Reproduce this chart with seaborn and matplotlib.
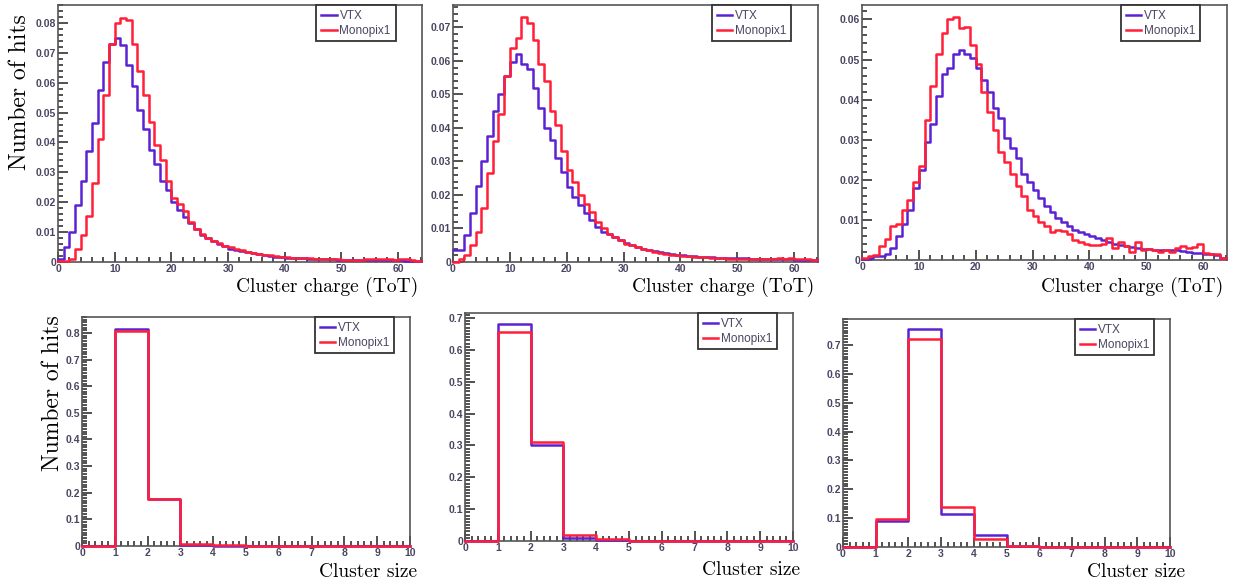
import numpy as np
import pandas as pd
import matplotlib
matplotlib.use('Agg')
import matplotlib.pyplot as plt
import seaborn as sns
from matplotlib.ticker import MultipleLocator, FuncFormatter

# ---- data (normalised hits per bin) ----
charge_edges = np.arange(0, 65, 1)
size_edges = np.arange(0, 11, 1)

charge_vtx_1 = [0.001, 0.005, 0.010, 0.019, 0.027, 0.037, 0.0465, 0.0575, 0.067, 0.073,
                0.0748, 0.0725, 0.066, 0.059, 0.051, 0.0445, 0.0375, 0.0327, 0.027, 0.024,
                0.020, 0.0175, 0.015, 0.013, 0.011, 0.009, 0.008, 0.007, 0.006, 0.0055,
                0.0045, 0.004, 0.0037, 0.0033, 0.003, 0.0027, 0.0023, 0.002, 0.0018, 0.0016,
                0.0015, 0.0014, 0.0013, 0.0012, 0.0011, 0.001, 0.001, 0.0009, 0.0009, 0.0008,
                0.0008, 0.0008, 0.0008, 0.0007, 0.0007, 0.0007, 0.0007, 0.0006, 0.0006, 0.0006,
                0.0006, 0.0005, 0.0005, 0.0004]
charge_mono_1 = [0.0002, 0.0005, 0.001, 0.0045, 0.009, 0.0155, 0.0265, 0.041, 0.056, 0.073,
                 0.080, 0.0815, 0.081, 0.073, 0.064, 0.056, 0.047, 0.039, 0.034, 0.027,
                 0.0215, 0.0195, 0.017, 0.0135, 0.011, 0.0095, 0.008, 0.007, 0.0065, 0.0055,
                 0.005, 0.0045, 0.004, 0.0035, 0.003, 0.0028, 0.0025, 0.0022, 0.002, 0.0018,
                 0.0016, 0.0015, 0.0013, 0.0012, 0.0012, 0.0011, 0.001, 0.001, 0.0009, 0.0009,
                 0.0008, 0.0008, 0.0008, 0.0008, 0.0009, 0.0011, 0.0009, 0.0011, 0.0009, 0.0008,
                 0.0011, 0.0009, 0.0007, 0.0005]

charge_vtx_2 = [0.0035, 0.0035, 0.008, 0.0147, 0.0226, 0.030, 0.0377, 0.045, 0.050, 0.0555,
                0.0597, 0.062, 0.059, 0.0575, 0.052, 0.046, 0.040, 0.0365, 0.031, 0.027,
                0.0225, 0.0195, 0.017, 0.0145, 0.0125, 0.0105, 0.009, 0.0083, 0.0075, 0.0065,
                0.0058, 0.005, 0.0045, 0.004, 0.0037, 0.0033, 0.003, 0.0027, 0.0025, 0.0022,
                0.002, 0.0019, 0.0018, 0.0016, 0.0015, 0.0014, 0.0013, 0.0013, 0.0012, 0.0012,
                0.0011, 0.0011, 0.001, 0.001, 0.001, 0.0009, 0.0009, 0.0009, 0.0008, 0.0008,
                0.0007, 0.0007, 0.0006, 0.0005]
charge_mono_2 = [0.0, 0.001, 0.002, 0.005, 0.009, 0.016, 0.0267, 0.036, 0.0443, 0.0555,
                 0.064, 0.067, 0.073, 0.0714, 0.0664, 0.059, 0.054, 0.045, 0.041, 0.033,
                 0.0276, 0.024, 0.020, 0.0174, 0.015, 0.012, 0.010, 0.0085, 0.0075, 0.0065,
                 0.0055, 0.005, 0.0045, 0.004, 0.0035, 0.003, 0.0028, 0.0025, 0.0022, 0.002,
                 0.0019, 0.0017, 0.0016, 0.0015, 0.0014, 0.0013, 0.0012, 0.0011, 0.001, 0.001,
                 0.0009, 0.0009, 0.0008, 0.0009, 0.0008, 0.0009, 0.001, 0.0012, 0.001, 0.0012,
                 0.0009, 0.001, 0.0008, 0.0006]

charge_vtx_3 = [0.0003, 0.0005, 0.001, 0.001, 0.0015, 0.003, 0.006, 0.009, 0.0125, 0.018,
                0.0225, 0.0295, 0.034, 0.041, 0.0465, 0.048, 0.0515, 0.0525, 0.0515, 0.0505,
                0.048, 0.045, 0.042, 0.038, 0.0355, 0.0305, 0.028, 0.0255, 0.0215, 0.0195,
                0.0175, 0.0155, 0.0135, 0.012, 0.0105, 0.0095, 0.0085, 0.0075, 0.007, 0.0065,
                0.006, 0.0055, 0.005, 0.0045, 0.004, 0.0038, 0.0035, 0.0033, 0.003, 0.0028,
                0.0027, 0.0026, 0.0025, 0.0025, 0.0024, 0.0024, 0.0022, 0.002, 0.0018, 0.0017,
                0.0016, 0.0015, 0.0013, 0.0005]
charge_mono_3 = [0.0005, 0.001, 0.0013, 0.0035, 0.0053, 0.0085, 0.009, 0.0125, 0.015, 0.0195,
                 0.0235, 0.035, 0.0435, 0.0515, 0.0565, 0.060, 0.0605, 0.0578, 0.058, 0.0535,
                 0.0488, 0.042, 0.037, 0.0325, 0.027, 0.0245, 0.0215, 0.0185, 0.016, 0.0125,
                 0.011, 0.0095, 0.0085, 0.007, 0.0075, 0.0072, 0.0065, 0.005, 0.0045, 0.004,
                 0.0038, 0.0037, 0.004, 0.0055, 0.003, 0.0045, 0.0035, 0.002, 0.0045, 0.0025,
                 0.0028, 0.0025, 0.002, 0.0025, 0.002, 0.003, 0.0035, 0.003, 0.0032, 0.004,
                 0.0018, 0.0015, 0.0015, 0.0005]

size_vtx_1 = [0.0, 0.815, 0.175, 0.004, 0.001, 0.0, 0.0, 0.0, 0.0, 0.0]
size_mono_1 = [0.0, 0.808, 0.175, 0.009, 0.003, 0.0, 0.0, 0.0, 0.0, 0.0]
size_vtx_2 = [0.0, 0.682, 0.302, 0.010, 0.004, 0.0, 0.0, 0.0, 0.0, 0.0]
size_mono_2 = [0.0, 0.657, 0.310, 0.020, 0.006, 0.0, 0.0, 0.0, 0.0, 0.0]
size_vtx_3 = [0.0, 0.090, 0.755, 0.115, 0.040, 0.002, 0.0, 0.0, 0.0, 0.0]
size_mono_3 = [0.0, 0.098, 0.722, 0.140, 0.028, 0.003, 0.0, 0.0, 0.0, 0.0]

series_labels = ['VTX', 'Monopix1']
VTX_COLOR = '#5a22d2'
MONO_COLOR = '#ff1f38'

W, H = 1237, 586
fig = plt.figure(figsize=(W / 100, H / 100), dpi=100)
fig.patch.set_facecolor('white')

SERIF = ['cmr10', 'DejaVu Serif']
TICK_FONT = 'Liberation Sans'
TICK_COLOR = '#4a4562'


def add_ax(left, top, right, bottom):
    # pixel box -> figure fraction
    return fig.add_axes([left / W, 1 - bottom / H, (right - left) / W, (bottom - top) / H])


def draw_panel(ax, edges, vtx, mono, xmax, ymax, xmaj, xmin, ymaj, ymin):
    centers = (edges[:-1] + edges[1:]) / 2
    for vals, col, lab in [(vtx, VTX_COLOR, series_labels[0]), (mono, MONO_COLOR, series_labels[1])]:
        df = pd.DataFrame({'x': centers, 'w': vals})
        sns.histplot(data=df, x='x', weights='w', binwidth=1,
                     binrange=(float(edges[0]), float(edges[-1])), element='step', fill=False,
                     color=col, linewidth=1.8, label=lab, ax=ax, zorder=3, clip_on=False)
    ax.set_xlim(0, xmax)
    ax.set_ylim(0, ymax)
    ax.set_xlabel('')
    ax.set_ylabel('')
    ax.xaxis.set_major_locator(MultipleLocator(xmaj))
    ax.xaxis.set_minor_locator(MultipleLocator(xmin))
    ax.yaxis.set_major_locator(MultipleLocator(ymaj))
    ax.yaxis.set_minor_locator(MultipleLocator(ymin))
    ax.yaxis.set_major_formatter(FuncFormatter(lambda v, p: '0' if abs(v) < 1e-9 else f'{v:g}'))
    ax.xaxis.set_major_formatter(FuncFormatter(lambda v, p: f'{v:g}'))
    ax.tick_params(which='both', direction='in', top=False, right=False, color='#222222', width=1.1)
    ax.tick_params(which='major', length=7, labelsize=7.5, labelcolor=TICK_COLOR, pad=1.5)
    ax.tick_params(which='minor', length=3.5)
    for lbl in ax.get_xticklabels() + ax.get_yticklabels():
        lbl.set_fontfamily(TICK_FONT)
        lbl.set_fontweight('bold')
    for sp in ax.spines.values():
        sp.set_color('#555555')
        sp.set_linewidth(1.2)
    leg = ax.legend(loc='upper left', bbox_to_anchor=(0.71, 1.0), borderaxespad=0,
                    frameon=True, fancybox=False, framealpha=1, edgecolor='#333333',
                    prop={'family': TICK_FONT, 'size': 8.5}, handlelength=1.3,
                    handletextpad=0.25, borderpad=0.4, labelspacing=0.25)
    leg.get_frame().set_linewidth(1.3)
    leg.set_zorder(5)
    for t in leg.get_texts():
        t.set_color(TICK_COLOR)


# top row: cluster charge
top_boxes = [(58, 5, 422, 262), (453, 5, 818, 262), (862, 5, 1227, 260)]
top_ylims = [0.086, 0.0767, 0.0636]
charge_data = [(charge_vtx_1, charge_mono_1), (charge_vtx_2, charge_mono_2), (charge_vtx_3, charge_mono_3)]
for box, ymax, (v, m) in zip(top_boxes, top_ylims, charge_data):
    ax = add_ax(*box)
    draw_panel(ax, charge_edges, v, m, 64.2, ymax, 10, 2, 0.01, 0.002)
    fig.text((box[2] - 4) / W, 1 - 287 / H, 'Cluster charge (ToT)', ha='right', va='center',
             fontsize=14, family=SERIF)

# bottom row: cluster size
bot_boxes = [(82, 317, 410, 546), (465, 313, 793, 541), (843, 319, 1170, 547)]
bot_ylims = [0.86, 0.716, 0.79]
size_data = [(size_vtx_1, size_mono_1), (size_vtx_2, size_mono_2), (size_vtx_3, size_mono_3)]
size_label_pos = [(417, 572), (800, 570), (1185, 572)]
for box, ymax, (v, m), (lx, ly) in zip(bot_boxes, bot_ylims, size_data, size_label_pos):
    ax = add_ax(*box)
    draw_panel(ax, size_edges, v, m, 10, ymax, 1, 0.2, 0.1, 0.01)
    fig.text(lx / W, 1 - ly / H, 'Cluster size', ha='right', va='center',
             fontsize=14, family=SERIF)

fig.text(20 / W, 1 - 92 / H, 'Number of hits', rotation=90, ha='center', va='center',
         fontsize=17, family=SERIF)
fig.text(53 / W, 1 - 393 / H, 'Number of hits', rotation=90, ha='center', va='center',
         fontsize=17, family=SERIF)

fig.savefig('out.png', dpi=100, facecolor='white')
